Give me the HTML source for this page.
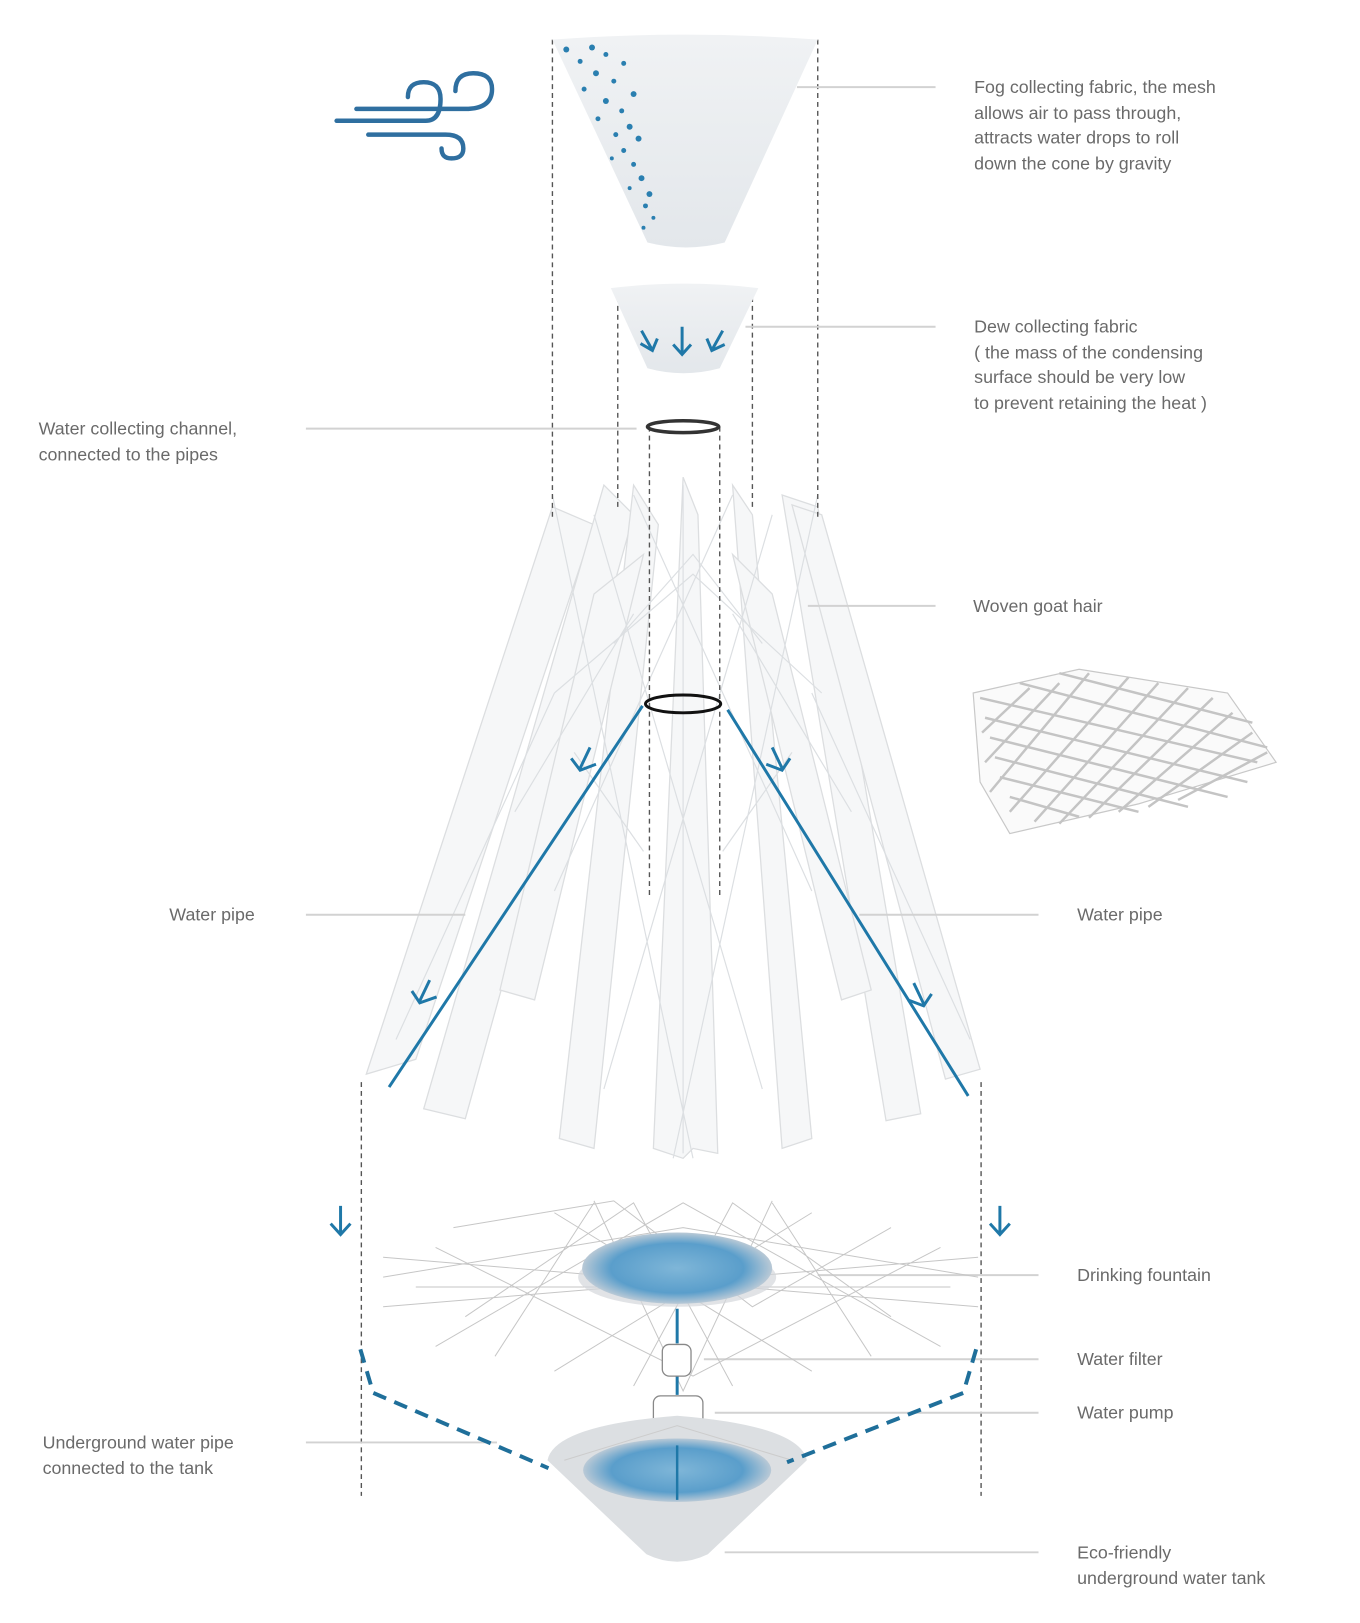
<!DOCTYPE html>
<html><head><meta charset="utf-8"><style>
body{margin:0;background:#fff;width:1360px;height:1623px;overflow:hidden;position:relative;font-family:"Liberation Sans",sans-serif}
#w{position:absolute;left:0;top:0;width:1360px;height:1623px;transform:scale(0.99);transform-origin:0 0}
.t{position:absolute;color:#6a6a6a;font-size:18px;line-height:25.5px;white-space:nowrap}
svg{position:absolute;left:0;top:0}
</style></head><body><div id="w">
<svg width="1360" height="1623" viewBox="0 0 1360 1623">
<defs>
<radialGradient id="wat" cx="50%" cy="50%" r="50%"><stop offset="0" stop-color="#7fb6d8"/><stop offset=".7" stop-color="#5a9ecb"/><stop offset="1" stop-color="#b9c9d6"/></radialGradient>
<linearGradient id="cone" x1="0" y1="0" x2="0" y2="1"><stop offset="0" stop-color="#f0f2f4"/><stop offset="1" stop-color="#e3e7eb"/></linearGradient>
</defs>
<g fill="#f6f7f8" stroke="#dcdee0" stroke-width="1.3">
<polygon points="558,512 600,530 420,1070 370,1085"/>
<polygon points="610,490 640,520 470,1130 428,1120"/>
<polygon points="640,490 665,530 600,1160 565,1150"/>
<polygon points="690,482 705,520 725,1165 700,1160 690,1170 660,1160"/>
<polygon points="740,490 760,520 820,1150 790,1160"/>
<polygon points="790,500 826,512 930,1125 895,1132"/>
<polygon points="800,510 830,520 990,1080 955,1090"/>
<polygon points="600,600 650,560 540,1010 505,1000"/>
<polygon points="740,560 780,600 880,1000 850,1010"/>
</g>
<g stroke="#dcdfe2" stroke-width="1.2" fill="none">
<path d="M558,500 L700,1170 M826,500 L680,1170 M600,520 L770,1100 M780,520 L610,1100 M640,500 L820,900 M740,500 L560,900 M560,700 L700,580 L830,700 M620,650 L700,560 L770,650 M690,490 L690,1165 M580,760 L650,860 M800,760 L730,860 M520,820 L640,620 M860,820 L740,620 M400,1050 L560,700 M980,1050 L820,700"/>
</g>
<g stroke="#555" stroke-width="1.4" stroke-dasharray="5,4" fill="none">
<path d="M558,40V523 M826,40V523 M624,291V513 M760,291V513 M656,431V906 M727,431V906 M365,1093V1511 M991,1093V1511"/>
</g>
<g stroke="#d2d2d2" stroke-width="2" fill="none">
<path d="M805,88H945 M753,330H945 M309,433H643 M816,612H945 M309,924H470 M868,924H1049 M826,1288H1049 M711,1373H1049 M722,1427H1049 M309,1457H502 M732,1568H1049"/>
</g>
<path d="M558,40 Q692,30 826,40 L732,245 Q693,255 654,245 Z" fill="url(#cone)"/>
<g fill="#2a7fb0">
<circle cx="572" cy="50" r="3"/><circle cx="598" cy="48" r="3"/><circle cx="612" cy="55" r="2.5"/><circle cx="586" cy="62" r="2.5"/><circle cx="630" cy="64" r="2.5"/><circle cx="602" cy="74" r="3"/><circle cx="620" cy="82" r="2.5"/><circle cx="590" cy="90" r="2.5"/><circle cx="640" cy="95" r="3"/><circle cx="612" cy="102" r="3"/><circle cx="628" cy="112" r="2.5"/><circle cx="604" cy="120" r="2.5"/><circle cx="636" cy="128" r="3"/><circle cx="622" cy="136" r="2.5"/><circle cx="645" cy="140" r="3"/><circle cx="630" cy="152" r="2.5"/><circle cx="618" cy="160" r="2"/><circle cx="640" cy="166" r="2.5"/><circle cx="648" cy="180" r="3"/><circle cx="636" cy="190" r="2"/><circle cx="656" cy="196" r="3"/><circle cx="652" cy="208" r="2.5"/><circle cx="660" cy="220" r="2"/><circle cx="650" cy="230" r="2"/>
</g>
<path d="M617,291 Q692,282 766,291 L727,372 Q690,382 654,372 Z" fill="url(#cone)"/>
<g stroke="#1f78a8" stroke-width="3" fill="none">
<path d="M648,334 L658,352 M689,330 V356 M730,334 L720,352"/>
<path d="M647,347 L659,354 L664,342 M680,348 L689,358 L698,348 M714,342 L719,354 L732,348"/>
</g>
<ellipse cx="690" cy="431" rx="36" ry="6" fill="none" stroke="#333" stroke-width="3.5"/>
<ellipse cx="690" cy="711" rx="38" ry="9" fill="none" stroke="#111" stroke-width="3"/>
<g stroke="#1f78a8" stroke-width="3" fill="none">
<path d="M649,713 L393,1098 M735,717 L978,1107"/>
<path d="M596,755 L586,776 M577,766 L586,778 L602,772 M434,990 L424,1011 M416,1001 L424,1013 L441,1007 M780,755 L790,776 M774,772 L790,778 L798,766 M923,993 L933,1014 M917,1010 L933,1016 L941,1004"/>
<path d="M344,1218V1246 M334,1236 L344,1247 L354,1236 M1010,1218V1246 M1000,1236 L1010,1247 L1020,1236"/>
</g>
<g fill="#fafafa" stroke="#c8c8c8" stroke-width="1.2">
<polygon points="983,700 1090,676 1240,700 1289,770 1150,812 1020,842 990,790"/>
</g>
<g stroke="#c4c4c4" stroke-width="2.5" fill="none">
<path d="M990,705 L1270,770 M995,725 L1260,790 M1000,745 L1240,805 M1005,765 L1200,815 M1010,785 L1150,820 M1020,805 L1090,825 M1030,690 L1280,755 M1070,680 L1265,730"/>
<path d="M1000,800 L1100,680 M1020,820 L1140,684 M1045,830 L1170,690 M1070,832 L1200,695 M1100,826 L1225,705 M1130,820 L1245,720 M1160,815 L1265,740 M1190,808 L1280,760 M995,770 L1070,690 M992,740 L1040,695"/>
</g>
<g stroke="#c6c6c6" stroke-width="1" fill="none">
<path d="M458,1240 L620,1213 L760,1320 L900,1240 M470,1330 L640,1215 L740,1400 M900,1330 L740,1215 L640,1400 M387,1270 L988,1320 M387,1320 L988,1270 M420,1300 L960,1300 M560,1225 L820,1385 M820,1225 L560,1385 M600,1213 L690,1405 L780,1213 M440,1260 L700,1390 L950,1260 M440,1360 L690,1215 L950,1360 M500,1370 L600,1215 M880,1370 L780,1215 M387,1290 L690,1240 L988,1290"/>
</g>
<ellipse cx="684" cy="1290" rx="100" ry="30" fill="#d4d7db" opacity=".7"/>
<ellipse cx="684" cy="1281" rx="96" ry="36" fill="url(#wat)"/>
<g stroke="#1f78a8" stroke-width="3" fill="none"><path d="M684,1322 V1357 M684,1390 V1409 M684,1460 V1540"/></g>
<rect x="669" y="1358" width="29" height="32" rx="7" fill="#fff" stroke="#888" stroke-width="1.3"/>
<rect x="660" y="1410" width="50" height="50" rx="7" fill="#fff" stroke="#888" stroke-width="1.3"/>
<path d="M553,1475 Q560,1440 684,1430 Q808,1440 815,1475 L715,1570 Q684,1585 653,1570 Z" fill="#dcdfe2"/>
<path d="M570,1475 L684,1440 L800,1475" fill="none" stroke="#ccc"/>
<ellipse cx="684" cy="1485" rx="95" ry="32" fill="url(#wat)"/>
<line x1="684" y1="1460" x2="684" y2="1515" stroke="#1f78a8" stroke-width="2.5"/>
<path d="M364,1363 L377,1407 L554,1483 M986,1363 L973,1407 L795,1477" fill="none" stroke="#1f6f9a" stroke-width="4" stroke-dasharray="14,9"/>
<g stroke="#2f6fa0" stroke-width="4.5" fill="none" stroke-linecap="round">
<path d="M340,122 H430 Q445,122 445,100 Q445,83 428,83 Q412,83 412,98"/>
<path d="M360,110 H470 Q497,110 497,90 Q497,74 478,74 Q460,74 460,92"/>
<path d="M372,136 H450 Q468,136 468,150 Q468,160 456,160 Q446,160 446,150"/>
</g>
</svg>
<div class="t" style="left:984px;top:76px">Fog collecting fabric, the mesh<br>allows air to pass through,<br>attracts water drops to roll<br>down the cone by gravity</div>
<div class="t" style="left:984px;top:318px">Dew collecting fabric<br>( the mass of the condensing<br>surface should be very low<br>to prevent retaining the heat )</div>
<div class="t" style="left:39px;top:421px">Water collecting channel,<br>connected to the pipes</div>
<div class="t" style="left:983px;top:600px">Woven goat hair</div>
<div class="t" style="left:171px;top:912px">Water pipe</div>
<div class="t" style="left:1088px;top:912px">Water pipe</div>
<div class="t" style="left:1088px;top:1276px">Drinking fountain</div>
<div class="t" style="left:1088px;top:1361px">Water filter</div>
<div class="t" style="left:1088px;top:1415px">Water pump</div>
<div class="t" style="left:43px;top:1445px">Underground water pipe<br>connected to the tank</div>
<div class="t" style="left:1088px;top:1556px">Eco-friendly<br>underground water tank</div>
</div></body></html>
